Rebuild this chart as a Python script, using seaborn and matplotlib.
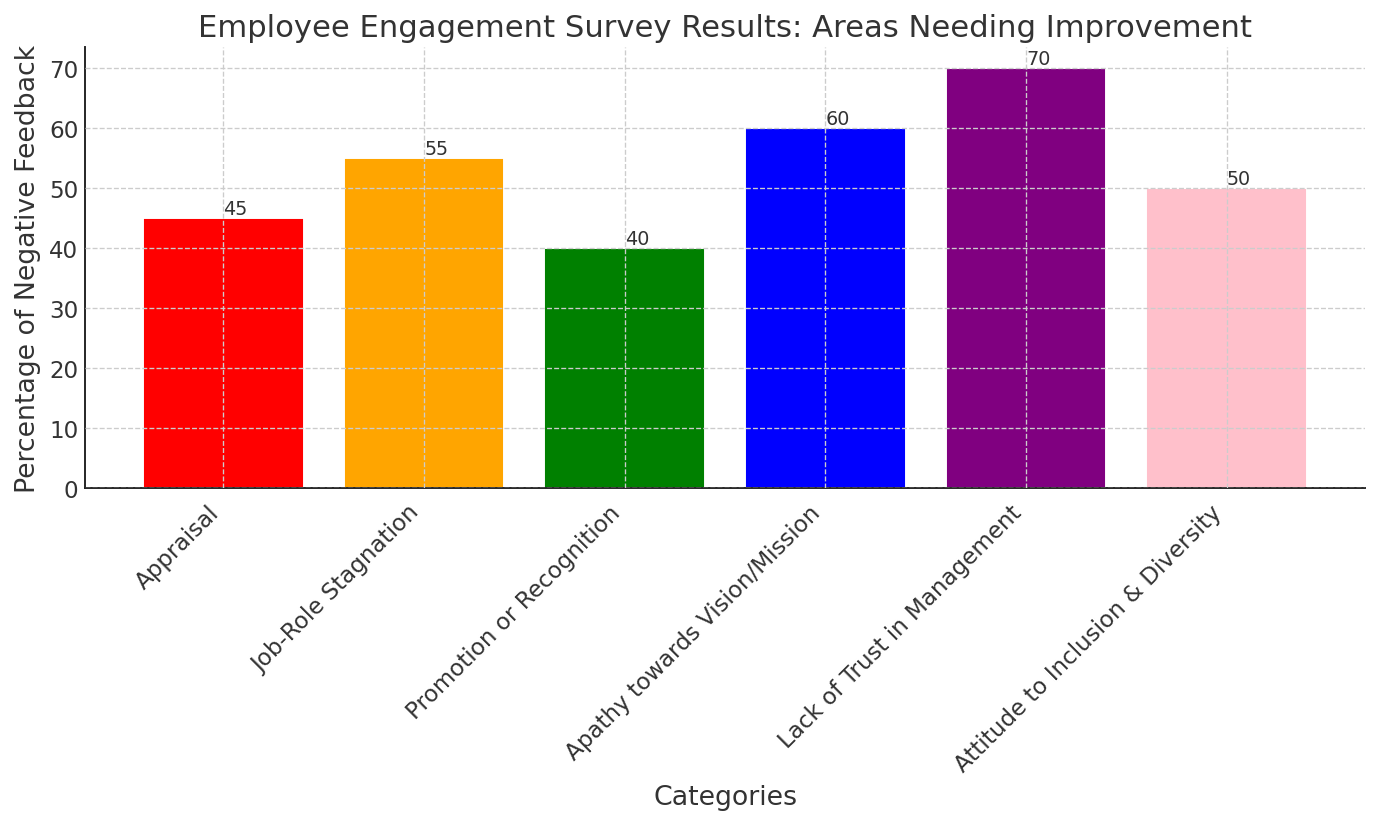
import matplotlib
matplotlib.use("Agg")
import matplotlib.pyplot as plt
import seaborn as sns
import pandas as pd

# Data
categories = ["Appraisal", "Job-Role Stagnation", "Promotion or Recognition",
              "Apathy towards Vision/Mission", "Lack of Trust in Management",
              "Attitude to Inclusion & Diversity"]
negative_feedback = [45, 55, 40, 60, 70, 50]
bar_colors = ["red", "orange", "green", "blue", "purple", "pink"]

df = pd.DataFrame({"Category": categories, "Negative": negative_feedback})

sns.set_style("white")
plt.rcParams["font.family"] = ["DejaVu Sans"]
text_color = "#333333"

fig, ax = plt.subplots(figsize=(10, 5.965), dpi=137.8)
sns.barplot(data=df, x="Category", y="Negative", hue="Category",
            palette=bar_colors, width=0.8, saturation=1, legend=False, ax=ax)

# Value labels on top of each bar
for i, v in enumerate(negative_feedback):
    ax.text(i, v, str(v), ha="left", va="bottom", fontsize=10, color=text_color)

ax.set_xlim(-0.69, 5.69)
ax.set_ylim(0, 73.5)
ax.set_title("Employee Engagement Survey Results: Areas Needing Improvement",
             fontsize=16, color=text_color)
ax.set_xlabel("Categories", fontsize=14, color=text_color)
ax.set_ylabel("Percentage of Negative Feedback", fontsize=14, color=text_color)
ax.set_xticks(range(len(categories)))
ax.set_xticklabels(categories, rotation=45, ha="right", fontsize=12, color=text_color)
ax.tick_params(axis="y", labelsize=12, labelcolor=text_color, length=0)
ax.tick_params(axis="x", length=3, direction="out")
ax.grid(True, linestyle="--", color="#cccccc", linewidth=0.7)
ax.set_axisbelow(False)
for s in ["top", "right"]:
    ax.spines[s].set_visible(False)
for s in ["left", "bottom"]:
    ax.spines[s].set_color("#222222")
    ax.spines[s].set_linewidth(1.0)

fig.subplots_adjust(left=0.0617, right=0.9906, top=0.9416, bottom=0.4051)
fig.savefig("out.png", dpi=137.8)
